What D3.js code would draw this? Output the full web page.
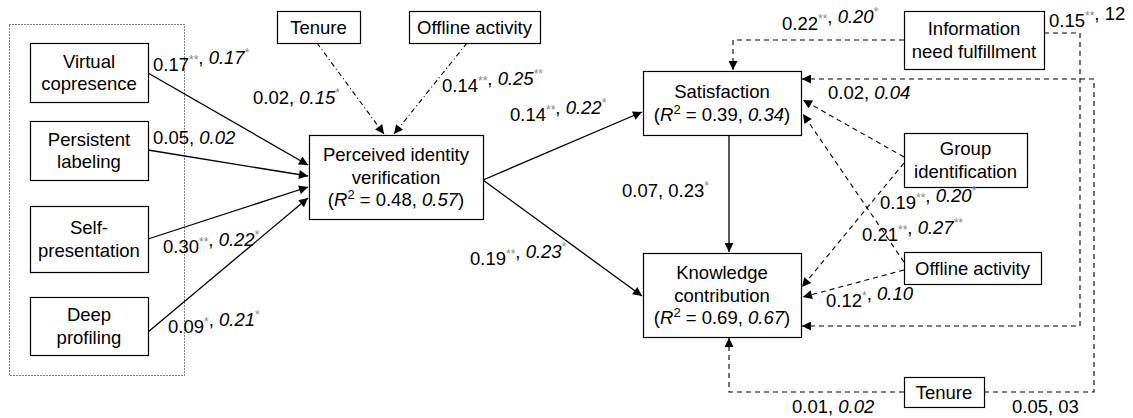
<!DOCTYPE html>
<html>
<head>
<meta charset="utf-8">
<script src="https://cdn.jsdelivr.net/npm/d3@7"></script>
<style>
  body { margin: 0; background: #fff; }
  svg text { font-family: "Liberation Sans", Arial, Helvetica, sans-serif; }
</style>
</head>
<body>
<div id="chart"></div>
<script>
// --- data ---
var nodeIds = ["vc", "pl", "sp", "dp", "ten1", "off1", "piv", "sat", "kc", "inf", "gi", "off2", "ten2"];
var nodeLines = [
  ["Virtual", "copresence"], ["Persistent", "labeling"], ["Self-", "presentation"], ["Deep", "profiling"],
  ["Tenure"], ["Offline activity"], ["Perceived identity", "verification"],
  ["Satisfaction"], ["Knowledge", "contribution"],
  ["Information", "need fulfillment"], ["Group", "identification"], ["Offline activity"], ["Tenure"]
];
// R squared for the outcome nodes: [plain, italic]
var r2Nodes = ["piv", "sat", "kc"];
var r2Values = [["0.48", "0.57"], ["0.39", "0.34"], ["0.69", "0.67"]];

// paths: from, to, coefficient 1, coefficient 2, is coef 2 italic
var pathFrom = ["vc", "pl", "sp", "dp", "ten1", "off1", "piv", "piv", "sat", "inf", "inf", "ten2", "ten2", "gi", "gi", "off2", "off2"];
var pathTo   = ["piv", "piv", "piv", "piv", "piv", "piv", "sat", "kc", "kc", "sat", "kc", "sat", "kc", "sat", "kc", "sat", "kc"];
var coef1    = ["0.17**", "0.05", "0.30**", "0.09*", "0.02", "0.14**", "0.14**", "0.19**", "0.07", "0.22**", "0.15**", "0.02", "0.01", "0.19**", "0.21**", "0.12*", "0.05"];
var coef2    = ["0.17*", "0.02", "0.22*", "0.21*", "0.15*", "0.25**", "0.22*", "0.23*", "0.23*", "0.20*", "12", "0.04", "0.02", "0.20*", "0.27**", "0.10", "03"];
var coef2It  = [true, true, true, true, true, true, true, true, false, true, false, true, true, true, true, true, false];
var pathKind = ["solid", "solid", "solid", "solid", "dashdot", "dashdot", "solid", "solid", "solid",
                "dash", "dash", "dash", "dash", "dash", "dash", "dash", "dash"];

// --- layout (pixel positions for the diagram) ---
var box = {
  vc: [30, 43, 118, 59], pl: [30, 121, 118, 59], sp: [30, 206, 118, 66], dp: [30, 297, 118, 58],
  ten1: [277, 11, 83, 32], off1: [409, 11, 131, 32], piv: [309, 135, 174, 84],
  sat: [643, 71, 158, 64], kc: [643, 253, 158, 84],
  inf: [904, 11, 140, 58], gi: [904, 133, 123, 54], off2: [904, 252, 137, 32], ten2: [904, 377, 80, 30]
};
var route = [
  [[148, 73], [308, 165]], [[148, 150], [308, 176]], [[148, 239], [308, 187]], [[148, 332], [308, 198]],
  [[317, 43], [384, 134]], [[467, 43], [394, 134]],
  [[483, 180], [642, 112]], [[483, 180], [642, 296]], [[729, 135], [729, 252]],
  [[904, 40], [733, 40], [733, 70]],
  [[1044, 33], [1080, 33], [1080, 326], [802, 326]],
  [[984, 392], [1094, 392], [1094, 79], [802, 79]],
  [[904, 392], [729, 392], [729, 338]],
  [[904, 157], [803, 100]], [[904, 163], [802, 287]],
  [[904, 262], [803, 114]], [[904, 270], [803, 297]]
];
var labelAt = [
  [153, 71], [153, 144], [163, 253], [168, 333], [253, 104], [442, 92], [510, 121], [470, 265], [622, 197],
  [782, 30], [1049, 27], [828, 99], [792, 413], [880, 209], [862, 241], [826, 307], [1012, 413]
];

var W = 1133, H = 418, FS = 18.5;
var svg = d3.select("#chart").append("svg").attr("width", W).attr("height", H);

svg.append("defs").append("marker")
  .attr("id", "arr").attr("viewBox", "0 0 10 10").attr("refX", 10).attr("refY", 5)
  .attr("markerWidth", 11).attr("markerHeight", 9).attr("markerUnits", "userSpaceOnUse")
  .attr("orient", "auto")
  .append("path").attr("d", "M0,0L10,5L0,10Z").attr("fill", "#000");

// dotted group around the design features
svg.append("rect").attr("x", 9.5).attr("y", 24.5).attr("width", 175).attr("height", 351)
  .attr("fill", "none").attr("stroke", "#000").attr("stroke-width", 1).attr("stroke-dasharray", "1,2");

var line = d3.line();
var dash = { solid: null, dash: "5,4", dashdot: "5,3,1,3" };

svg.append("g").selectAll("path")
  .data(route)
  .join("path")
  .attr("d", d => line(d))
  .attr("fill", "none")
  .attr("stroke", "#000")
  .attr("stroke-width", (d, i) => pathKind[i] == "solid" ? 1.3 : 1.1)
  .attr("stroke-dasharray", (d, i) => dash[pathKind[i]])
  .attr("marker-end", "url(#arr)");

// boxes
var nodes = svg.append("g").selectAll("g")
  .data(nodeIds)
  .join("g");

nodes.append("rect")
  .attr("x", d => box[d][0] + 0.5).attr("y", d => box[d][1] + 0.5)
  .attr("width", d => box[d][2]).attr("height", d => box[d][3])
  .attr("fill", "#fff").attr("stroke", "#000").attr("stroke-width", 1.2);

var LH = 22.5;
nodes.each(function(id, i) {
  var g = d3.select(this);
  var b = box[id];
  var lines = nodeLines[i].slice();
  var ri = r2Nodes.indexOf(id);
  var n = lines.length + (ri >= 0 ? 1 : 0);
  var cx = b[0] + b[2] / 2;
  var top = b[1] + b[3] / 2 - (n - 1) * LH / 2 + 6.5;
  lines.forEach(function(t, k) {
    g.append("text").attr("x", cx).attr("y", top + k * LH)
      .attr("text-anchor", "middle").attr("font-size", FS).text(t);
  });
  if (ri >= 0) {
    var t = g.append("text").attr("x", cx).attr("y", top + lines.length * LH)
      .attr("text-anchor", "middle").attr("font-size", FS);
    t.append("tspan").text("(");
    t.append("tspan").attr("font-style", "italic").text("R");
    t.append("tspan").attr("font-size", 13).attr("dy", -7).text("2");
    t.append("tspan").attr("dy", 7).text(" = " + r2Values[ri][0] + ", ");
    t.append("tspan").attr("font-style", "italic").text(r2Values[ri][1]);
    t.append("tspan").text(")");
  }
});

// coefficient labels
function addCoef(t, s, italic) {
  var m = s.match(/^([^*]*)(\**)$/);
  t.append("tspan").attr("font-style", italic ? "italic" : null).text(m[1]);
  if (m[2]) {
    t.append("tspan").attr("font-size", 12).attr("fill", "#888").attr("dy", -7).text(m[2]);
    t.append("tspan").attr("dy", 7).text("");
  }
}
svg.append("g").selectAll("text")
  .data(labelAt)
  .join("text")
  .attr("x", d => d[0]).attr("y", d => d[1])
  .attr("font-size", FS)
  .each(function(d, i) {
    var t = d3.select(this);
    addCoef(t, coef1[i], false);
    t.append("tspan").text(", ");
    addCoef(t, coef2[i], coef2It[i]);
  });
</script>
</body>
</html>
